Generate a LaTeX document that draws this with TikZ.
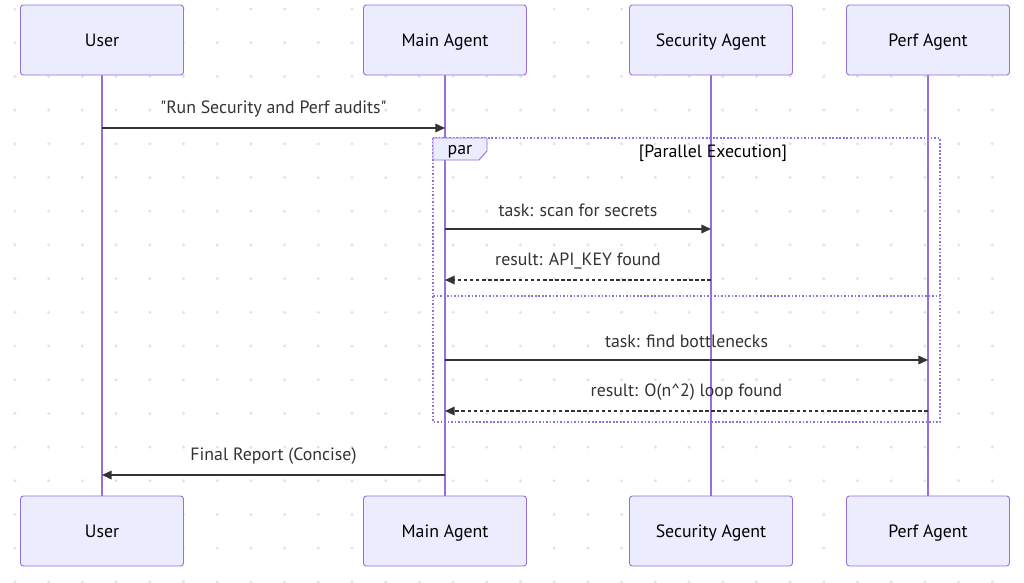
\documentclass[tikz,border=0pt]{standalone}
\usepackage{fontspec}
\setmainfont{PT Sans}
\usetikzlibrary{arrows.meta, positioning}
\definecolor{actorline}{HTML}{9370DB}
\definecolor{actorfill}{HTML}{ECECFF}
\definecolor{msgline}{HTML}{333333}
\definecolor{griddot}{HTML}{E4E4E4}

\begin{document}
\begin{tikzpicture}[
  x=0.03cm, y=-0.03cm,
  font=\fontsize{15.2}{18}\selectfont,
  actor/.style={rectangle, rounded corners=2.5pt, draw=actorline, fill=actorfill,
                line width=0.8pt, minimum width=4.89cm, minimum height=2.1cm,
                text depth=0pt},
  life/.style={actorline, line width=1.6pt},
  msg/.style={-{Triangle[length=2.9mm, width=2.6mm]}, msgline, line width=1.2pt},
  reply/.style={msg, dash pattern=on 3pt off 2.2pt},
  parbox/.style={actorline, line width=1.5pt, dash pattern=on 1.4pt off 1.6pt},
  lbl/.style={midway, yshift=0.57cm}]

  % canvas with dot grid
  \fill[white] (0,0) rectangle (1024,583);
  \useasboundingbox (0,0) rectangle (1024,583);
  \foreach \i in {0,...,30}
    \foreach \j in {0,...,17}
      \fill[griddot] (15+33.7*\i, 9+33.7*\j) circle (1.7);

  % lifeline anchors (boxes are drawn on top later)
  \coordinate (userT) at (102,40);
  \coordinate (mainT) at (445,40);
  \coordinate (secT)  at (711,40);
  \coordinate (perfT) at (928,40);
  \coordinate (userB) at (102,531);
  \coordinate (mainB) at (445,531);
  \coordinate (secB)  at (711,531);
  \coordinate (perfB) at (928,531);

  % lifelines
  \draw[life] (userT) -- (userB);
  \draw[life] (mainT) -- (mainB);
  \draw[life] (secT) -- (secB);
  \draw[life] (perfT) -- (perfB);

  % participants
  \foreach \n/\t in {user/User, main/Main Agent, sec/Security Agent, perf/Perf Agent} {
    \node[actor] (\n Top) at (\n T) {\t};
    \node[actor] (\n Bot) at (\n B) {\t};
  }

  % par block
  \draw[parbox] (433,138) rectangle (940,422);
  \draw[parbox] (433,296) -- (940,296);
  \draw[actorline, fill=actorfill, line width=0.8pt]
    (433,138) -- (487,138) -- (487,151) -- (479,160) -- (433,160) -- cycle;
  \node (par) at (460,152) {par};
  \node (parlbl) at (713,153) {[Parallel Execution]};

  % messages
  \draw[msg] (userT |- 0,128) -- node[lbl] {\textquotedbl Run Security and Perf audits\textquotedbl} (mainT |- 0,128);
  \draw[msg] (mainT |- 0,229) -- node[lbl] {task: scan for secrets} (secT |- 0,229);
  \draw[reply] (secT |- 0,280) -- node[lbl] {result: API\_KEY found} (mainT |- 0,280);
  \draw[msg] (mainT |- 0,360) -- node[lbl] {task: find bottlenecks} (perfT |- 0,360);
  \draw[reply] (perfT |- 0,411) -- node[lbl] {result: O(n\textasciicircum 2) loop found} (mainT |- 0,411);
  \draw[msg] (mainT |- 0,475) -- node[lbl] {Final Report (Concise)} (userT |- 0,475);
\end{tikzpicture}
\end{document}
